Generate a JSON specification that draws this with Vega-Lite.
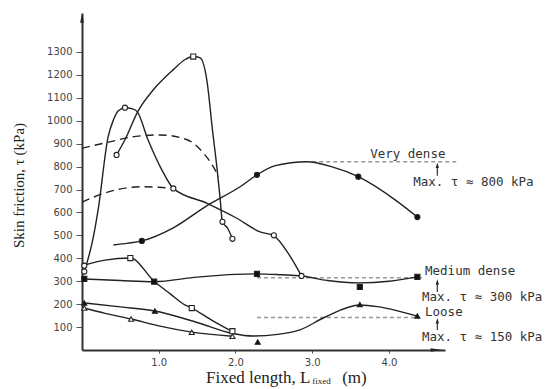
{
  "$schema": "https://vega.github.io/schema/vega-lite/v6.json",
  "autosize": {"type": "none"},
  "padding": {"left": 82, "top": 13, "right": 105, "bottom": 39},
  "width": 363,
  "height": 337,
  "background": "white",
  "config": {"view": {"stroke": null}},
  "resolve": {"scale": {"shape": "independent", "size": "independent", "fill": "independent"}},
  "datasets": {
    "solid": [
      {"s": "A", "i": 1, "x": 0.03, "y": 342}, {"s": "A", "i": 2, "x": 0.14, "y": 480}, {"s": "A", "i": 3, "x": 0.21, "y": 611}, {"s": "A", "i": 4, "x": 0.34, "y": 930}, {"s": "A", "i": 5, "x": 0.41, "y": 1004}, {"s": "A", "i": 6, "x": 0.47, "y": 1042}, {"s": "A", "i": 7, "x": 0.56, "y": 1057}, {"s": "A", "i": 8, "x": 0.66, "y": 1052}, {"s": "A", "i": 9, "x": 0.72, "y": 1040}, {"s": "A", "i": 10, "x": 0.86, "y": 917}, {"s": "A", "i": 11, "x": 1.04, "y": 786}, {"s": "A", "i": 12, "x": 1.19, "y": 705}, {"s": "A", "i": 13, "x": 1.63, "y": 640}, {"s": "A", "i": 14, "x": 2.0, "y": 578}, {"s": "A", "i": 15, "x": 2.32, "y": 515}, {"s": "A", "i": 16, "x": 2.5, "y": 498}, {"s": "A", "i": 17, "x": 2.7, "y": 415}, {"s": "A", "i": 18, "x": 2.86, "y": 323},
      {"s": "B", "i": 1, "x": 0.45, "y": 851}, {"s": "B", "i": 2, "x": 0.56, "y": 917}, {"s": "B", "i": 3, "x": 0.73, "y": 1042}, {"s": "B", "i": 4, "x": 0.93, "y": 1135}, {"s": "B", "i": 5, "x": 1.19, "y": 1223}, {"s": "B", "i": 6, "x": 1.34, "y": 1266}, {"s": "B", "i": 7, "x": 1.45, "y": 1280}, {"s": "B", "i": 8, "x": 1.54, "y": 1274}, {"s": "B", "i": 9, "x": 1.63, "y": 1170}, {"s": "B", "i": 10, "x": 1.7, "y": 960}, {"s": "B", "i": 11, "x": 1.76, "y": 790}, {"s": "B", "i": 12, "x": 1.8, "y": 660}, {"s": "B", "i": 13, "x": 1.83, "y": 559}, {"s": "B", "i": 14, "x": 1.9, "y": 530}, {"s": "B", "i": 15, "x": 1.96, "y": 485},
      {"s": "D", "i": 1, "x": 0.41, "y": 458}, {"s": "D", "i": 2, "x": 0.6, "y": 466}, {"s": "D", "i": 3, "x": 0.78, "y": 476}, {"s": "D", "i": 4, "x": 1.19, "y": 533}, {"s": "D", "i": 5, "x": 1.63, "y": 630}, {"s": "D", "i": 6, "x": 2.06, "y": 712}, {"s": "D", "i": 7, "x": 2.28, "y": 764}, {"s": "D", "i": 8, "x": 2.52, "y": 804}, {"s": "D", "i": 9, "x": 2.93, "y": 821}, {"s": "D", "i": 10, "x": 3.25, "y": 800}, {"s": "D", "i": 11, "x": 3.6, "y": 756}, {"s": "D", "i": 12, "x": 4.08, "y": 655}, {"s": "D", "i": 13, "x": 4.37, "y": 580},
      {"s": "M", "i": 1, "x": 0.03, "y": 310}, {"s": "M", "i": 2, "x": 0.5, "y": 303}, {"s": "M", "i": 3, "x": 0.94, "y": 298}, {"s": "M", "i": 4, "x": 1.5, "y": 318}, {"s": "M", "i": 5, "x": 2.0, "y": 330}, {"s": "M", "i": 6, "x": 2.28, "y": 332}, {"s": "M", "i": 7, "x": 2.6, "y": 328}, {"s": "M", "i": 8, "x": 2.86, "y": 323}, {"s": "M", "i": 9, "x": 3.2, "y": 303}, {"s": "M", "i": 10, "x": 3.6, "y": 293}, {"s": "M", "i": 11, "x": 4.0, "y": 300}, {"s": "M", "i": 12, "x": 4.37, "y": 319},
      {"s": "E", "i": 1, "x": 0.03, "y": 370}, {"s": "E", "i": 2, "x": 0.3, "y": 392}, {"s": "E", "i": 3, "x": 0.63, "y": 401}, {"s": "E", "i": 4, "x": 0.94, "y": 300}, {"s": "E", "i": 5, "x": 1.15, "y": 245}, {"s": "E", "i": 6, "x": 1.34, "y": 197}, {"s": "E", "i": 7, "x": 1.43, "y": 183}, {"s": "E", "i": 8, "x": 1.7, "y": 128}, {"s": "E", "i": 9, "x": 1.96, "y": 80},
      {"s": "F", "i": 1, "x": 0.03, "y": 205}, {"s": "F", "i": 2, "x": 0.5, "y": 188}, {"s": "F", "i": 3, "x": 0.95, "y": 170}, {"s": "F", "i": 4, "x": 1.5, "y": 120}, {"s": "F", "i": 5, "x": 1.96, "y": 72}, {"s": "F", "i": 6, "x": 2.23, "y": 61}, {"s": "F", "i": 7, "x": 2.55, "y": 68}, {"s": "F", "i": 8, "x": 2.84, "y": 88}, {"s": "F", "i": 9, "x": 3.17, "y": 144}, {"s": "F", "i": 10, "x": 3.62, "y": 196}, {"s": "F", "i": 11, "x": 3.85, "y": 189}, {"s": "F", "i": 12, "x": 4.1, "y": 172}, {"s": "F", "i": 13, "x": 4.37, "y": 148},
      {"s": "G", "i": 1, "x": 0.03, "y": 183}, {"s": "G", "i": 2, "x": 0.3, "y": 160}, {"s": "G", "i": 3, "x": 0.64, "y": 135}, {"s": "G", "i": 4, "x": 1.0, "y": 105}, {"s": "G", "i": 5, "x": 1.43, "y": 78}, {"s": "G", "i": 6, "x": 1.96, "y": 60}
    ],
    "dashed": [
      {"s": "D1", "i": 1, "x": 0.0, "y": 880}, {"s": "D1", "i": 2, "x": 0.36, "y": 908}, {"s": "D1", "i": 3, "x": 0.7, "y": 932}, {"s": "D1", "i": 4, "x": 1.02, "y": 938}, {"s": "D1", "i": 5, "x": 1.37, "y": 917}, {"s": "D1", "i": 6, "x": 1.58, "y": 860}, {"s": "D1", "i": 7, "x": 1.71, "y": 800}, {"s": "D1", "i": 8, "x": 1.78, "y": 756},
      {"s": "D2", "i": 1, "x": 0.0, "y": 645}, {"s": "D2", "i": 2, "x": 0.3, "y": 685}, {"s": "D2", "i": 3, "x": 0.6, "y": 708}, {"s": "D2", "i": 4, "x": 0.78, "y": 712}, {"s": "D2", "i": 5, "x": 1.0, "y": 710}, {"s": "D2", "i": 6, "x": 1.19, "y": 705}
    ],
    "refs": [
      {"s": "R1", "i": 1, "x": 3.0, "y": 821}, {"s": "R1", "i": 2, "x": 4.88, "y": 821},
      {"s": "R2", "i": 1, "x": 2.28, "y": 315}, {"s": "R2", "i": 2, "x": 4.45, "y": 315},
      {"s": "R3", "i": 1, "x": 2.28, "y": 142}, {"s": "R3", "i": 2, "x": 4.34, "y": 142}
    ],
    "points": [
      {"x": 0.03, "y": 368, "kind": "circle", "fill": "open"}, {"x": 0.03, "y": 342, "kind": "circle", "fill": "open"}, {"x": 0.56, "y": 1057, "kind": "circle", "fill": "open"}, {"x": 1.19, "y": 705, "kind": "circle", "fill": "open"}, {"x": 2.5, "y": 500, "kind": "circle", "fill": "open"}, {"x": 2.86, "y": 323, "kind": "circle", "fill": "open"}, {"x": 0.45, "y": 851, "kind": "circle", "fill": "open"}, {"x": 1.83, "y": 559, "kind": "circle", "fill": "open"}, {"x": 1.96, "y": 485, "kind": "circle", "fill": "open"},
      {"x": 1.45, "y": 1280, "kind": "square", "fill": "open"}, {"x": 0.63, "y": 401, "kind": "square", "fill": "open"}, {"x": 1.43, "y": 183, "kind": "square", "fill": "open"}, {"x": 1.96, "y": 82, "kind": "square", "fill": "open"},
      {"x": 0.03, "y": 310, "kind": "square", "fill": "filled"}, {"x": 0.94, "y": 298, "kind": "square", "fill": "filled"}, {"x": 2.28, "y": 332, "kind": "square", "fill": "filled"}, {"x": 3.62, "y": 275, "kind": "square", "fill": "filled"}, {"x": 4.37, "y": 319, "kind": "square", "fill": "filled"},
      {"x": 0.78, "y": 476, "kind": "dot", "fill": "filled"}, {"x": 2.28, "y": 764, "kind": "dot", "fill": "filled"}, {"x": 3.6, "y": 756, "kind": "dot", "fill": "filled"}, {"x": 4.37, "y": 580, "kind": "dot", "fill": "filled"},
      {"x": 0.03, "y": 205, "kind": "triangle", "fill": "filled"}, {"x": 0.95, "y": 170, "kind": "triangle", "fill": "filled"}, {"x": 2.29, "y": 35, "kind": "triangle", "fill": "filled"}, {"x": 3.62, "y": 198, "kind": "triangle", "fill": "filled"}, {"x": 4.37, "y": 148, "kind": "triangle", "fill": "filled"},
      {"x": 0.03, "y": 183, "kind": "triangle", "fill": "open"}, {"x": 0.64, "y": 135, "kind": "triangle", "fill": "open"}, {"x": 1.43, "y": 77, "kind": "triangle", "fill": "open"}, {"x": 1.96, "y": 60, "kind": "triangle", "fill": "open"}
    ],
    "stems": [
      {"x": 4.63, "y": 760, "y2": 800}, {"x": 4.63, "y": 253, "y2": 292}, {"x": 4.63, "y": 87, "y2": 122}
    ],
    "heads": [
      {"x": 4.63, "y": 806, "dir": "small"}, {"x": 4.63, "y": 297, "dir": "small"}, {"x": 4.63, "y": 128, "dir": "small"},
      {"x": 0.0, "y": 1448, "dir": "up"}, {"x": 4.62, "y": 0, "dir": "right"}
    ],
    "labels": [
      {"x": 3.755, "y": 855, "text": "Very dense"},
      {"x": 4.316, "y": 733, "text": "Max. τ ≈ 800 kPa"},
      {"x": 4.47, "y": 345, "text": "Medium dense"},
      {"x": 4.43, "y": 231, "text": "Max. τ ≈ 300 kPa"},
      {"x": 4.47, "y": 166, "text": "Loose"},
      {"x": 4.43, "y": 57, "text": "Max. τ ≈ 150 kPa"}
    ],
    "xtitleMain": [{"x": 2.975, "y": -120, "text": "Fixed length, L"}],
    "xtitleSub": [{"x": 3.0, "y": -136, "text": "fixed"}],
    "xtitleUnit": [{"x": 3.39, "y": -120, "text": "(m)"}]
  },
  "encoding": {
    "x": {"field": "x", "type": "quantitative", "scale": {"domain": [0, 4.73], "nice": false, "zero": false},
      "axis": {"title": null, "values": [1, 2, 3, 4], "format": ".1f", "grid": false, "domainColor": "#333", "domainWidth": 2, "tickColor": "#555", "tickSize": 3, "labelFont": "DejaVu Sans", "labelFontSize": 10, "labelColor": "#444", "labelPadding": 4}},
    "y": {"field": "y", "type": "quantitative", "scale": {"domain": [0, 1470], "nice": false, "zero": false},
      "axis": {"title": "Skin friction, τ (kPa)", "titleFont": "Liberation Serif", "titleFontSize": 15, "titleFontWeight": "normal", "titleColor": "#222", "titleX": -64, "titleY": 172, "titleAngle": 270, "titleAlign": "center", "titleBaseline": "middle", "values": [100, 200, 300, 400, 500, 600, 700, 800, 900, 1000, 1100, 1200, 1300], "format": "d", "grid": false, "domainColor": "#333", "domainWidth": 2, "tickColor": "#555", "tickSize": 6, "labelFont": "DejaVu Sans", "labelFontSize": 10, "labelColor": "#444", "labelPadding": 4}}
  },
  "layer": [
    {"data": {"name": "refs"}, "mark": {"type": "line", "color": "#999", "strokeWidth": 1.5, "strokeDash": [4, 3]}, "encoding": {"detail": {"field": "s"}, "order": {"field": "i"}}},
    {"data": {"name": "dashed"}, "mark": {"type": "line", "color": "#222", "strokeWidth": 1.4, "strokeDash": [8, 5], "interpolate": "monotone"}, "encoding": {"detail": {"field": "s"}, "order": {"field": "i"}}},
    {"data": {"name": "solid"}, "mark": {"type": "line", "color": "#222", "strokeWidth": 1.4, "interpolate": "monotone"}, "encoding": {"detail": {"field": "s"}, "order": {"field": "i"}}},
    {"data": {"name": "points"}, "mark": {"type": "point", "filled": true, "stroke": "#222", "strokeWidth": 1.1, "size": 26, "opacity": 1},
      "encoding": {
        "shape": {"field": "kind", "type": "nominal", "scale": {"domain": ["circle", "square", "triangle", "dot"], "range": ["circle", "square", "triangle-up", "circle"]}, "legend": null},
        "fill": {"field": "fill", "type": "nominal", "scale": {"domain": ["open", "filled"], "range": ["white", "#111"]}, "legend": null}
      }},
    {"data": {"name": "stems"}, "mark": {"type": "rule", "color": "#333", "strokeWidth": 1.2}, "encoding": {"y2": {"field": "y2"}}},
    {"data": {"name": "heads"}, "mark": {"type": "point", "filled": true, "color": "#222", "opacity": 1},
      "encoding": {
        "shape": {"field": "dir", "type": "nominal", "scale": {"domain": ["small", "up", "right"], "range": ["M-0.6,1L0,-1L0.6,1Z", "M-0.4,1L0,-1L0.4,1Z", "M-1,-0.3L1,0L-1,0.3Z"]}, "legend": null},
        "size": {"field": "dir", "type": "nominal", "scale": {"domain": ["small", "up", "right"], "range": [30, 140, 200]}, "legend": null}
      }},
    {"data": {"name": "labels"}, "mark": {"type": "text", "align": "left", "baseline": "middle", "font": "DejaVu Sans Mono", "fontSize": 12.5, "color": "#333"}, "encoding": {"text": {"field": "text"}}},
    {"data": {"name": "xtitleMain"}, "mark": {"type": "text", "align": "right", "baseline": "middle", "font": "Liberation Serif", "fontSize": 17, "color": "#222"}, "encoding": {"text": {"field": "text"}}},
    {"data": {"name": "xtitleSub"}, "mark": {"type": "text", "align": "left", "baseline": "middle", "font": "Liberation Serif", "fontSize": 9, "color": "#222"}, "encoding": {"text": {"field": "text"}}},
    {"data": {"name": "xtitleUnit"}, "mark": {"type": "text", "align": "left", "baseline": "middle", "font": "Liberation Serif", "fontSize": 17, "color": "#222"}, "encoding": {"text": {"field": "text"}}}
  ]
}
